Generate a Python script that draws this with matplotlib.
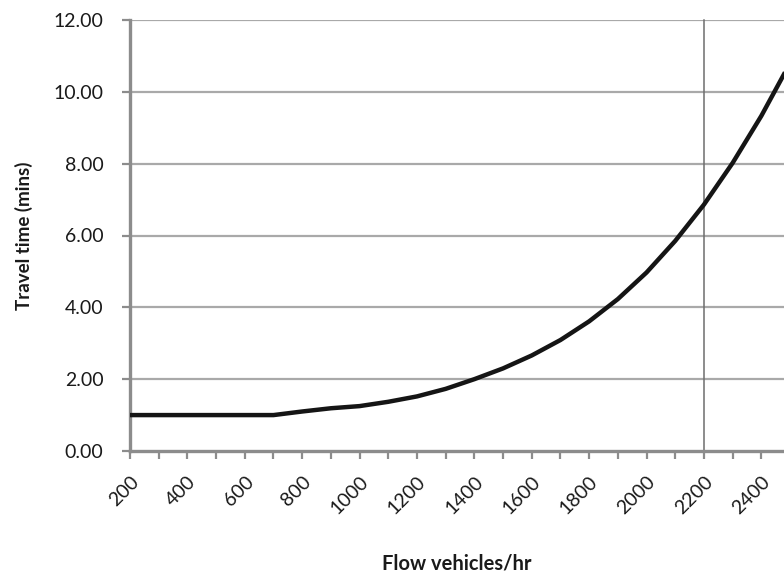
import matplotlib.pyplot as plt

# flow (vehicles/hr) vs travel time (mins)
flow = [200, 300, 400, 500, 600, 700, 800, 900, 1000, 1100, 1200, 1300,
        1400, 1500, 1600, 1700, 1800, 1900, 2000, 2100, 2200, 2300, 2400, 2500]
travel_time = [1.0, 1.0, 1.0, 1.0, 1.0, 1.0, 1.1, 1.19, 1.25, 1.37, 1.52, 1.73,
               2.0, 2.3, 2.66, 3.09, 3.61, 4.23, 4.97, 5.85, 6.86, 8.02, 9.33, 10.8]

y_ticks = [0, 2, 4, 6, 8, 10, 12]
x_labels = [200, 400, 600, 800, 1000, 1200, 1400, 1600, 1800, 2000, 2200, 2400]
marker_flow = 2200

plt.rcParams['font.family'] = ['Lato', 'DejaVu Sans']

fig = plt.figure(figsize=(7.84, 5.73), dpi=100)
ax = fig.add_axes([130/784, 122/573, 654/784, 431/573])

grid_col = '#a9a9a9'
for y in y_ticks[1:]:
    ax.axhline(y, color=grid_col, lw=1.6, zorder=1)
ax.axvline(marker_flow, ymin=-0.017, ymax=1, color='#6e6e6e', lw=1.1, zorder=1, clip_on=False)

ax.plot(flow, travel_time, color='#151515', lw=3.2, zorder=3,
        solid_capstyle='butt', solid_joinstyle='round')

ax.set_xlim(200, 2479)
ax.set_ylim(0, 12)

ax.set_yticks(y_ticks)
ax.set_yticklabels(['%.2f' % v for v in y_ticks])
ax.set_xticks(range(200, 2480, 100))
ax.set_xticklabels([str(v) if v in x_labels else '' for v in range(200, 2480, 100)],
                   rotation=45, ha='right', va='top', rotation_mode='anchor')

ax.tick_params(axis='both', colors='#8c8c8c', length=6, width=1.6, labelcolor='#1a1a1a',
               labelsize=14)
ax.tick_params(axis='x', pad=10)
ax.tick_params(axis='y', pad=13)

for s in ['top', 'right']:
    ax.spines[s].set_visible(False)
for s in ['left', 'bottom']:
    ax.spines[s].set_color('#8c8c8c')
    ax.spines[s].set_linewidth(2.4)

ax.set_xlabel('Flow vehicles/hr', fontsize=14.5, fontweight='bold', color='#1a1a1a', labelpad=26)
ax.set_ylabel('Travel time (mins)', fontsize=13.5, fontweight='bold', color='#1a1a1a', labelpad=15)

fig.savefig('out.png', dpi=100)
